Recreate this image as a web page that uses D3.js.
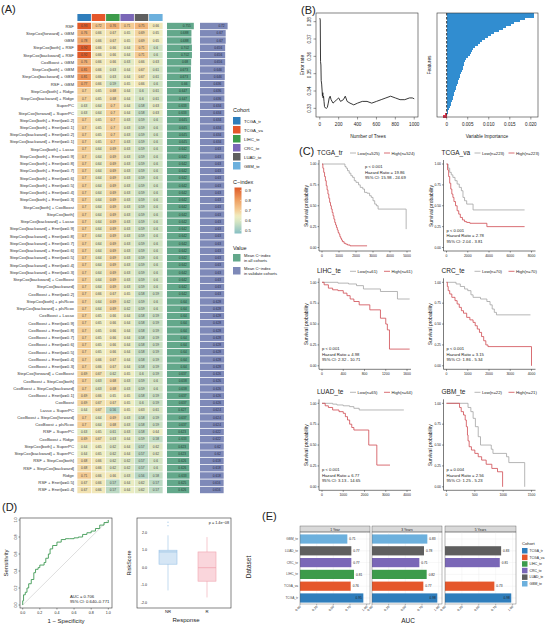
<!DOCTYPE html>
<html>
<head>
<meta charset="utf-8">
<script src="https://cdn.jsdelivr.net/npm/d3@7"></script>
<style>
body { margin: 0; background: #fff; }
svg { display: block; font-family: "Liberation Sans", Arial, Helvetica, sans-serif; }
</style>
</head>
<body>
<svg id="fig" width="546" height="625"></svg>
<script>
'use strict';

// ---------- data: panel A ----------
const cohorts = ["TCGA_tr", "TCGA_va", "LIHC_te", "CRC_te", "LUAD_te", "GBM_te"];
const cohortColors = ["#2f7ebc", "#e5572b", "#3d9b4b", "#7a67b7", "#5f5f5f", "#6cb0dd"];

const models = [
	"RSF", "StepCox[forward] + GBM", "GBM", "StepCox[both] + RSF", "StepCox[backward] + RSF",
	"CoxBoost + GBM", "StepCox[both] + GBM", "StepCox[backward] + GBM", "RSF + GBM",
	"StepCox[both] + Ridge", "StepCox[backward] + Ridge", "SuperPC", "StepCox[forward] + SuperPC",
	"StepCox[both] + Enet[α=0.2]", "StepCox[both] + Enet[α=0.1]", "StepCox[backward] + Enet[α=0.2]",
	"StepCox[backward] + Enet[α=0.1]", "StepCox[both] + Lasso", "StepCox[both] + Enet[α=0.9]",
	"StepCox[both] + Enet[α=0.8]", "StepCox[both] + Enet[α=0.7]", "StepCox[both] + Enet[α=0.6]",
	"StepCox[both] + Enet[α=0.5]", "StepCox[both] + Enet[α=0.4]", "StepCox[both] + Enet[α=0.3]",
	"StepCox[both] + CoxBoost", "StepCox[both]", "StepCox[backward] + Lasso",
	"StepCox[backward] + Enet[α=0.9]", "StepCox[backward] + Enet[α=0.8]", "StepCox[backward] + Enet[α=0.7]",
	"StepCox[backward] + Enet[α=0.6]", "StepCox[backward] + Enet[α=0.5]", "StepCox[backward] + Enet[α=0.4]",
	"StepCox[backward] + Enet[α=0.3]", "StepCox[backward] + CoxBoost", "StepCox[backward]",
	"CoxBoost + Enet[α=0.2]", "StepCox[both] + plsRcox", "StepCox[backward] + plsRcox",
	"CoxBoost + Lasso", "CoxBoost + Enet[α=0.9]", "CoxBoost + Enet[α=0.8]", "CoxBoost + Enet[α=0.7]",
	"CoxBoost + Enet[α=0.6]", "CoxBoost + Enet[α=0.5]", "CoxBoost + Enet[α=0.4]", "CoxBoost + Enet[α=0.3]",
	"StepCox[forward] + CoxBoost", "CoxBoost + StepCox[both]", "CoxBoost + StepCox[backward]",
	"CoxBoost + Enet[α=0.1]", "CoxBoost", "Lasso + SuperPC", "CoxBoost + StepCox[forward]",
	"CoxBoost + plsRcox", "RSF + SuperPC", "CoxBoost + Ridge", "StepCox[both] + SuperPC",
	"StepCox[backward] + SuperPC", "RSF + StepCox[both]", "RSF + StepCox[backward]", "Ridge",
	"RSF + Enet[α=0.5]", "RSF + Enet[α=0.4]"
];

const cindex = [
	[0.93, 0.72, 0.76, 0.71, 0.75, 0.66],
	[0.76, 0.66, 0.67, 0.65, 0.69, 0.65],
	[0.78, 0.66, 0.67, 0.65, 0.69, 0.65],
	[0.92, 0.66, 0.66, 0.64, 0.71, 0.6],
	[0.92, 0.66, 0.66, 0.64, 0.71, 0.6],
	[0.76, 0.66, 0.66, 0.63, 0.66, 0.63],
	[0.81, 0.66, 0.63, 0.64, 0.67, 0.61],
	[0.81, 0.66, 0.63, 0.64, 0.67, 0.61],
	[0.77, 0.66, 0.59, 0.65, 0.66, 0.6],
	[0.7, 0.65, 0.68, 0.64, 0.6, 0.61],
	[0.7, 0.65, 0.68, 0.64, 0.6, 0.61],
	[0.63, 0.64, 0.7, 0.64, 0.58, 0.63],
	[0.63, 0.64, 0.7, 0.64, 0.58, 0.63],
	[0.7, 0.65, 0.7, 0.63, 0.59, 0.6],
	[0.7, 0.65, 0.7, 0.63, 0.59, 0.6],
	[0.7, 0.65, 0.7, 0.63, 0.59, 0.6],
	[0.7, 0.65, 0.7, 0.63, 0.59, 0.6],
	[0.7, 0.64, 0.69, 0.63, 0.59, 0.6],
	[0.7, 0.64, 0.69, 0.63, 0.59, 0.6],
	[0.7, 0.64, 0.69, 0.63, 0.59, 0.6],
	[0.7, 0.64, 0.69, 0.63, 0.59, 0.6],
	[0.7, 0.64, 0.69, 0.63, 0.59, 0.6],
	[0.7, 0.64, 0.69, 0.63, 0.59, 0.6],
	[0.7, 0.64, 0.69, 0.63, 0.59, 0.6],
	[0.7, 0.64, 0.69, 0.63, 0.59, 0.6],
	[0.7, 0.64, 0.69, 0.63, 0.59, 0.6],
	[0.7, 0.64, 0.69, 0.63, 0.59, 0.6],
	[0.7, 0.64, 0.69, 0.63, 0.59, 0.6],
	[0.7, 0.64, 0.69, 0.63, 0.59, 0.6],
	[0.7, 0.64, 0.69, 0.63, 0.59, 0.6],
	[0.7, 0.64, 0.69, 0.63, 0.59, 0.6],
	[0.7, 0.64, 0.69, 0.63, 0.59, 0.6],
	[0.7, 0.64, 0.69, 0.63, 0.59, 0.6],
	[0.7, 0.64, 0.69, 0.63, 0.59, 0.6],
	[0.7, 0.64, 0.69, 0.63, 0.59, 0.6],
	[0.7, 0.64, 0.69, 0.63, 0.59, 0.6],
	[0.7, 0.64, 0.69, 0.63, 0.59, 0.6],
	[0.7, 0.66, 0.67, 0.65, 0.58, 0.59],
	[0.7, 0.64, 0.69, 0.62, 0.59, 0.6],
	[0.7, 0.64, 0.69, 0.62, 0.59, 0.6],
	[0.7, 0.65, 0.66, 0.64, 0.58, 0.59],
	[0.7, 0.65, 0.66, 0.64, 0.58, 0.59],
	[0.7, 0.65, 0.66, 0.64, 0.58, 0.59],
	[0.7, 0.65, 0.66, 0.64, 0.58, 0.59],
	[0.7, 0.65, 0.66, 0.64, 0.58, 0.59],
	[0.7, 0.65, 0.66, 0.64, 0.58, 0.59],
	[0.7, 0.66, 0.67, 0.64, 0.58, 0.59],
	[0.7, 0.66, 0.67, 0.64, 0.58, 0.59],
	[0.69, 0.67, 0.62, 0.65, 0.6, 0.59],
	[0.7, 0.63, 0.68, 0.63, 0.59, 0.6],
	[0.7, 0.63, 0.68, 0.63, 0.59, 0.6],
	[0.69, 0.66, 0.65, 0.65, 0.58, 0.59],
	[0.69, 0.67, 0.67, 0.65, 0.6, 0.59],
	[0.64, 0.67, 0.56, 0.65, 0.63, 0.61],
	[0.7, 0.64, 0.69, 0.63, 0.58, 0.59],
	[0.7, 0.64, 0.68, 0.63, 0.58, 0.59],
	[0.63, 0.65, 0.61, 0.63, 0.58, 0.64],
	[0.69, 0.67, 0.63, 0.64, 0.59, 0.58],
	[0.64, 0.65, 0.62, 0.64, 0.57, 0.62],
	[0.64, 0.65, 0.62, 0.64, 0.57, 0.62],
	[0.68, 0.66, 0.62, 0.62, 0.57, 0.6],
	[0.68, 0.66, 0.62, 0.62, 0.57, 0.6],
	[0.71, 0.66, 0.66, 0.63, 0.56, 0.58],
	[0.67, 0.66, 0.57, 0.64, 0.62, 0.57],
	[0.67, 0.66, 0.57, 0.64, 0.62, 0.57]
];

const meanAll = [0.755, 0.688, 0.688, 0.702, 0.702, 0.68, 0.673, 0.673, 0.66, 0.647, 0.647, 0.633, 0.633,
	0.645, 0.645, 0.645, 0.645, 0.642, 0.642, 0.642, 0.642, 0.642, 0.642, 0.642, 0.642, 0.642, 0.642,
	0.642, 0.642, 0.642, 0.642, 0.642, 0.642, 0.642, 0.642, 0.642, 0.642, 0.642, 0.64, 0.64, 0.64, 0.64,
	0.64, 0.64, 0.64, 0.64, 0.64, 0.64, 0.637, 0.638, 0.638, 0.637, 0.637, 0.627, 0.637, 0.637, 0.623,
	0.633, 0.623, 0.623, 0.626, 0.626, 0.633, 0.625, 0.626];
const meanVal = [0.72, 0.67, 0.67, 0.656, 0.656, 0.656, 0.646, 0.646, 0.636, 0.636, 0.636, 0.634, 0.634,
	0.634, 0.634, 0.634, 0.634, 0.63, 0.63, 0.63, 0.63, 0.63, 0.63, 0.63, 0.63, 0.63, 0.63, 0.63, 0.63,
	0.63, 0.63, 0.63, 0.63, 0.63, 0.63, 0.63, 0.63, 0.63, 0.628, 0.628, 0.628, 0.628, 0.628, 0.628, 0.628,
	0.628, 0.628, 0.628, 0.626, 0.626, 0.626, 0.626, 0.626, 0.624, 0.624, 0.624, 0.622, 0.622, 0.62, 0.62,
	0.618, 0.618, 0.618, 0.616, 0.616];

const legendTicks = [0.9, 0.8, 0.7, 0.6, 0.5];

// ---------- data: panel B ----------
const errorTrees = [1, 5, 8, 12, 15, 20, 25, 28, 32, 35, 40, 45, 50, 60, 70, 80, 90, 100, 110, 120, 140, 160,
	180, 200, 220, 250, 270, 290, 320, 360, 400, 450, 500, 550, 600, 650, 700, 750, 800, 850, 900, 950, 980, 1000];
const errorRate = [0.382, 0.381, 0.357, 0.355, 0.346, 0.344, 0.34, 0.337, 0.339, 0.336, 0.337, 0.334, 0.331,
	0.3302, 0.33, 0.3305, 0.333, 0.336, 0.337, 0.335, 0.333, 0.334, 0.335, 0.336, 0.334, 0.335, 0.337, 0.334,
	0.333, 0.332, 0.333, 0.334, 0.334, 0.333, 0.334, 0.335, 0.336, 0.337, 0.336, 0.335, 0.335, 0.336, 0.336, 0.3355];
const errorTicks = [0.33, 0.34, 0.35, 0.36, 0.37, 0.38];

const importance = [0.0208, 0.0207, 0.0186, 0.0175, 0.016, 0.0152, 0.014, 0.0133, 0.0124, 0.0113, 0.0105,
	0.0098, 0.0092, 0.0085, 0.008, 0.0075, 0.0068, 0.0062, 0.0059, 0.0057, 0.0055, 0.0051, 0.0046, 0.0044,
	0.0042, 0.004, 0.0039, 0.0038, 0.0036, 0.0034, 0.0032, 0.0031, 0.003, 0.0028, 0.0027, 0.0025, 0.0023,
	0.0022, 0.002, 0.0018, 0.0017, 0.0016, 0.0015, 0.0013, 0.0011, 0.001, 0.0008, 0.0006, 0.0004, 0.0002,
	-0.0005, -0.0009];
const importanceTicks = [0, 0.005, 0.010, 0.015, 0.020];

// ---------- data: panel C (Kaplan-Meier steps: [time, survival]) ----------
const kmTcgaTrLow = [[0, 1], [1350, 0.97], [1420, 0.95], [1500, 0.92], [1600, 0.89], [1700, 0.86], [1800, 0.84],
	[1900, 0.8], [2000, 0.78], [2150, 0.75], [2250, 0.72], [2400, 0.7], [2500, 0.66], [2650, 0.65], [2800, 0.62],
	[2900, 0.6], [3000, 0.56], [3100, 0.52], [3200, 0.5], [3300, 0.46], [4950, 0.22]];
const kmTcgaTrHigh = [[0, 1], [50, 0.95], [100, 0.9], [150, 0.85], [200, 0.8], [250, 0.74], [300, 0.69],
	[350, 0.64], [400, 0.59], [450, 0.54], [500, 0.5], [550, 0.46], [600, 0.42], [650, 0.38], [700, 0.34],
	[750, 0.3], [800, 0.27], [850, 0.24], [900, 0.21], [950, 0.18], [1000, 0.16], [1050, 0.13], [1100, 0.11],
	[1150, 0.09], [1200, 0.07], [1300, 0.05], [1400, 0.04], [1500, 0.03], [1650, 0.02], [2650, 0.02]];
const kmTcgaVaLow = [[0, 1], [150, 0.95], [300, 0.9], [450, 0.87], [600, 0.84], [800, 0.8], [1000, 0.76],
	[1200, 0.72], [1400, 0.68], [1550, 0.6], [1700, 0.56], [1900, 0.52], [2500, 0.45], [7350, 0.45]];
const kmTcgaVaHigh = [[0, 1], [100, 0.93], [200, 0.85], [300, 0.77], [400, 0.7], [500, 0.64], [600, 0.6],
	[700, 0.55], [850, 0.5], [1000, 0.44], [1150, 0.4], [1300, 0.36], [1500, 0.33], [1700, 0.31], [1900, 0.3],
	[2200, 0.29], [3800, 0.25], [7350, 0.25]];
const kmLihcLow = [[0, 1], [300, 0.99], [500, 0.98], [650, 0.96], [780, 0.92], [1100, 0.89], [1420, 0.8], [1650, 0.8]];
const kmLihcHigh = [[0, 1], [40, 0.97], [120, 0.93], [200, 0.91], [300, 0.9], [400, 0.87], [470, 0.84], [530, 0.8],
	[600, 0.77], [700, 0.73], [900, 0.67], [1100, 0.57], [1200, 0.5], [1230, 0.43], [1270, 0.2], [1650, 0.2]];
const kmCrcLow = [[0, 1], [450, 0.98], [650, 0.95], [850, 0.92], [1000, 0.9], [1150, 0.85], [1250, 0.82],
	[1600, 0.8], [1900, 0.77], [2050, 0.73], [2150, 0.68], [2250, 0.64], [2350, 0.61], [3950, 0.61]];
const kmCrcHigh = [[0, 1], [40, 0.95], [80, 0.9], [150, 0.86], [250, 0.82], [400, 0.78], [500, 0.74], [600, 0.7],
	[700, 0.66], [800, 0.63], [950, 0.58], [1100, 0.55], [1250, 0.52], [1350, 0.48], [1450, 0.44], [1550, 0.4],
	[1650, 0.35], [1750, 0.3], [1850, 0.25], [1950, 0.23], [4000, 0]];
const kmLuadLow = [[0, 1], [500, 0.99], [700, 0.98], [1000, 0.97], [1300, 0.96], [1500, 0.94], [1750, 0.92], [3850, 0.92]];
const kmLuadHigh = [[0, 1], [150, 0.97], [300, 0.95], [500, 0.92], [800, 0.9], [1000, 0.88], [1100, 0.84],
	[1200, 0.8], [1300, 0.75], [1400, 0.71], [1500, 0.68], [2200, 0.5], [2580, 0.26], [3200, 0.26]];
const kmGbmLow = [[0, 1], [380, 0.95], [430, 0.9], [470, 0.82], [510, 0.72], [560, 0.6], [600, 0.5], [790, 0.45],
	[820, 0.4], [1060, 0.36], [1100, 0.29], [1380, 0]];
const kmGbmHigh = [[0, 1], [230, 0.95], [260, 0.9], [300, 0.86], [330, 0.8], [350, 0.72], [370, 0.62], [380, 0.55],
	[400, 0.48], [440, 0.44], [500, 0.4], [560, 0.36], [620, 0.32], [700, 0.27], [800, 0.22], [900, 0.18], [990, 0]];

const kmTitles = ["TCGA_tr", "TCGA_va", "LIHC_te", "CRC_te", "LUAD_te", "GBM_te"];
const kmLowN = [525, 223, 61, 70, 65, 22];
const kmHighN = [524, 223, 61, 70, 64, 21];
const kmXMax = [5000, 8000, 1600, 4000, 4000, 1500];
const kmXStep = [1000, 2000, 400, 1000, 1000, 500];
const kmP = ["p < 0.001", "p < 0.001", "p < 0.001", "p < 0.001", "p < 0.001", "p = 0.004"];
const kmHR = ["19.86", "2.78", "4.98", "3.15", "6.77", "2.56"];
const kmCI = ["15.98 - 24.69", "2.04 - 3.81", "2.32 - 10.71", "1.86 - 5.34", "3.13 - 14.65", "1.25 - 5.23"];
const kmLow = [kmTcgaTrLow, kmTcgaVaLow, kmLihcLow, kmCrcLow, kmLuadLow, kmGbmLow];
const kmHigh = [kmTcgaTrHigh, kmTcgaVaHigh, kmLihcHigh, kmCrcHigh, kmLuadHigh, kmGbmHigh];

// ---------- data: panel D ----------
const rocFpr = [0, 0, 0.01, 0.03, 0.05, 0.07, 0.1, 0.13, 0.15, 0.18, 0.2, 0.25, 0.27, 0.3, 0.32, 0.35, 0.4, 0.45,
	0.5, 0.55, 0.6, 0.65, 0.7, 0.75, 0.8, 0.85, 0.9, 0.95, 1];
const rocTpr = [0, 0.05, 0.12, 0.15, 0.2, 0.25, 0.3, 0.38, 0.42, 0.44, 0.47, 0.5, 0.55, 0.6, 0.66, 0.7, 0.74, 0.77,
	0.78, 0.78, 0.79, 0.8, 0.83, 0.85, 0.87, 0.9, 0.94, 0.97, 1];
const responseGroups = ["NR", "R"];
const riskStats = [
	{ group: "NR", min: -1.3, q1: 0.2, median: 0.9, q3: 1.0, max: 1.85, outliers: [2.4, 2.6] },
	{ group: "R", min: -1.7, q1: -0.77, median: 0.0, q3: 0.9, max: 1.75, outliers: [] }
];
const riskTicks = [-2, -1, 0, 1, 2];

// ---------- data: panel E ----------
const aucYears = ["1 Year", "3 Years", "5 Years"];
const auc1Year = [0.95, 0.76, 0.81, 0.77, 0.77, 0.71];
const auc3Year = [0.98, 0.77, 0.82, 0.71, 0.78, 0.83];
const auc5Year = [0.98, 0.73, null, 0.81, 0.83, null];
const aucTicks = [0, 0.25, 0.5, 0.75, 1];

// ---------- drawing ----------
const svg = d3.select("#fig");

function label(x, y, t, size, opts) {
	opts = opts || {};
	const el = svg.append("text")
		.attr("x", x).attr("y", y)
		.attr("font-size", size)
		.attr("fill", opts.fill || "#222")
		.attr("text-anchor", opts.anchor || "start")
		.text(t);
	if (opts.rotate) el.attr("transform", `rotate(${opts.rotate},${x},${y})`);
	return el;
}

// panel letters
label(1, 13, "(A)", 11);
label(301, 14, "(B)", 11);
label(299, 155, "(C)", 11);
label(2, 511, "(D)", 11);
label(262, 520, "(E)", 11);

function drawHeatmap() {
	const cColor = d3.scaleLinear()
		.domain([0.5, 0.6, 0.65, 0.7, 0.8, 0.9])
		.range(["#86bfc3", "#d3e4c3", "#f0eec2", "#f4cf98", "#ee9a5c", "#df5a28"])
		.clamp(true);

	const y = d3.scaleBand().domain(d3.range(models.length)).range([22.4, 493.6]);
	const x = d3.scaleBand().domain(cohorts).range([77, 163]);
	const colorOf = d3.scaleOrdinal().domain(cohorts).range(cohortColors);

	const g = svg.append("g");

	// top cohort strip
	g.selectAll("rect.top").data(cohorts).enter().append("rect")
		.attr("x", d => x(d) + 0.4).attr("y", 14)
		.attr("width", x.bandwidth() - 0.8).attr("height", 7)
		.attr("fill", d => colorOf(d));

	const rows = g.selectAll("g.row").data(models).enter().append("g")
		.attr("transform", (d, i) => `translate(0,${y(i)})`);

	rows.append("text")
		.attr("x", 74).attr("y", y.bandwidth() / 2 + 1.5)
		.attr("text-anchor", "end").attr("font-size", 4.3).attr("fill", "#333")
		.text(d => d);

	const cells = rows.selectAll("g.cell")
		.data((d, i) => cindex[i].map((v, j) => ({ v: v, c: cohorts[j] })))
		.enter().append("g");
	cells.append("rect")
		.attr("x", d => x(d.c) + 0.35).attr("y", 0.35)
		.attr("width", x.bandwidth() - 0.7).attr("height", y.bandwidth() - 0.7)
		.attr("fill", d => cColor(d.v));
	cells.append("text")
		.attr("x", d => x(d.c) + x.bandwidth() / 2).attr("y", y.bandwidth() / 2 + 1.2)
		.attr("text-anchor", "middle").attr("font-size", 3.2).attr("fill", "#444")
		.text(d => d.v);

	// mean bars
	const wAll = d3.scaleLinear().domain([0, 0.76]).range([0, 27]);
	const wVal = d3.scaleLinear().domain([0, 0.73]).range([0, 28]);
	rows.append("rect")
		.attr("x", 167).attr("y", 0.4)
		.attr("width", (d, i) => wAll(meanAll[i])).attr("height", y.bandwidth() - 0.8)
		.attr("fill", "#63a88b");
	rows.append("text")
		.attr("x", (d, i) => 167 + wAll(meanAll[i]) - 3).attr("y", y.bandwidth() / 2 + 1.2)
		.attr("text-anchor", "end").attr("font-size", 3.2).attr("fill", "#1f3a30")
		.text((d, i) => meanAll[i]);
	rows.append("rect")
		.attr("x", 200).attr("y", 0.4)
		.attr("width", (d, i) => wVal(meanVal[i])).attr("height", y.bandwidth() - 0.8)
		.attr("fill", "#7e89b8");
	rows.append("text")
		.attr("x", (d, i) => 200 + wVal(meanVal[i]) - 3).attr("y", y.bandwidth() / 2 + 1.2)
		.attr("text-anchor", "end").attr("font-size", 3.2).attr("fill", "#1e2440")
		.text((d, i) => meanVal[i]);

	// legends
	label(233, 112, "Cohort", 5.5);
	cohorts.forEach((c, i) => {
		svg.append("rect").attr("x", 233).attr("y", 117 + i * 9)
			.attr("width", 7.5).attr("height", 7.5).attr("fill", cohortColors[i]);
		label(244, 122.5 + i * 9, c, 4.3);
	});

	label(233, 184, "C−index", 5.5);
	const grad = svg.append("defs").append("linearGradient")
		.attr("id", "cgrad").attr("x1", 0).attr("y1", 1).attr("x2", 0).attr("y2", 0);
	d3.range(0.5, 0.9001, 0.02).forEach(v => {
		grad.append("stop").attr("offset", (v - 0.5) / 0.4).attr("stop-color", cColor(v));
	});
	const lg = d3.scaleLinear().domain([0.5, 0.9]).range([230.5, 190.5]);
	svg.append("rect").attr("x", 234.5).attr("y", 187.5).attr("width", 7).attr("height", 46)
		.attr("fill", "url(#cgrad)");
	legendTicks.forEach(t => {
		svg.append("line").attr("x1", 240).attr("x2", 241.5).attr("y1", lg(t)).attr("y2", lg(t))
			.attr("stroke", "#fff").attr("stroke-width", 0.4);
		label(245, lg(t) + 1.5, t, 4.3);
	});

	label(233, 250, "Value", 5.5);
	svg.append("rect").attr("x", 233).attr("y", 254).attr("width", 7.5).attr("height", 7.5).attr("fill", "#63a88b");
	label(244, 257, "Mean C−index", 4.1);
	label(244, 262, "in all cohorts", 4.1);
	svg.append("rect").attr("x", 233).attr("y", 267).attr("width", 7.5).attr("height", 7.5).attr("fill", "#7e89b8");
	label(244, 270, "Mean C−index", 4.1);
	label(244, 275, "in validate cohorts", 4.1);
}

function drawPanelB() {
	// error rate by trees
	const x = d3.scaleLinear().domain([-40, 1040]).range([316, 418]);
	const y = d3.scaleLinear().domain([0.325, 0.385]).range([117, 13]);
	const g = svg.append("g");
	g.append("rect").attr("x", 316).attr("y", 13).attr("width", 102).attr("height", 104)
		.attr("fill", "none").attr("stroke", "#333").attr("stroke-width", 0.6);
	const line = d3.line().x((d, i) => x(errorTrees[i])).y(d => y(d));
	g.append("path").datum(errorRate).attr("d", line)
		.attr("fill", "none").attr("stroke", "#222").attr("stroke-width", 0.9);
	[0, 200, 400, 600, 800, 1000].forEach(t => {
		g.append("line").attr("x1", x(t)).attr("x2", x(t)).attr("y1", 117).attr("y2", 119.5)
			.attr("stroke", "#333").attr("stroke-width", 0.5);
		label(x(t), 126, t, 4.6, { anchor: "middle" });
	});
	errorTicks.forEach(t => {
		g.append("line").attr("x1", 313.5).attr("x2", 316).attr("y1", y(t)).attr("y2", y(t))
			.attr("stroke", "#333").attr("stroke-width", 0.5);
		label(311, y(t), t.toFixed(2), 4.6, { anchor: "middle", rotate: -90 });
	});
	label(368, 138, "Number of Trees", 4.8, { anchor: "middle" });
	label(304, 65, "Error rate", 4.8, { anchor: "middle", rotate: -90 });

	// variable importance, one 2px row per feature
	const xi = d3.scaleLinear().domain([-0.0023, 0.0217]).range([437, 538]);
	const yi = d3.scaleBand().domain(d3.range(importance.length)).range([13, 117]);
	g.append("g").attr("shape-rendering", "crispEdges")
		.selectAll("rect").data(importance).enter().append("rect")
		.attr("x", d => xi(Math.min(0, d)))
		.attr("y", (d, i) => yi(i))
		.attr("width", d => Math.abs(xi(d) - xi(0)))
		.attr("height", yi.bandwidth() + 0.5)
		.attr("fill", d => d < 0 ? "#e0334d" : "#318dd0");
	g.append("rect").attr("x", 437).attr("y", 13).attr("width", 101).attr("height", 104)
		.attr("fill", "none").attr("stroke", "#333").attr("stroke-width", 0.6);
	g.append("line").attr("x1", xi(0)).attr("x2", xi(0)).attr("y1", 13).attr("y2", 117)
		.attr("stroke", "#333").attr("stroke-width", 1).attr("stroke-dasharray", "2.5,1.5");
	importanceTicks.forEach(t => {
		g.append("line").attr("x1", xi(t)).attr("x2", xi(t)).attr("y1", 117).attr("y2", 119.5)
			.attr("stroke", "#333").attr("stroke-width", 0.5);
		label(xi(t), 126, t === 0 ? "0" : t.toFixed(3), 4.6, { anchor: "middle" });
	});
	label(487, 138, "Variable Importance", 4.8, { anchor: "middle" });
	label(431, 65, "Features", 4.8, { anchor: "middle", rotate: -90 });
}

function drawKM(k, axisX, top) {
	const zeroY = top + 83.5;
	const x = d3.scaleLinear().domain([0, kmXMax[k]]).range([axisX + 3, axisX + 88]);
	const y = d3.scaleLinear().domain([0, 1]).range([zeroY, top]);
	const g = svg.append("g");

	// axes
	g.append("line").attr("x1", axisX).attr("x2", axisX).attr("y1", top - 4).attr("y2", zeroY + 3.5)
		.attr("stroke", "#222").attr("stroke-width", 0.6);
	g.append("line").attr("x1", axisX).attr("x2", axisX + 92).attr("y1", zeroY + 3.5).attr("y2", zeroY + 3.5)
		.attr("stroke", "#222").attr("stroke-width", 0.6);
	[0, 0.25, 0.5, 0.75, 1].forEach(t => {
		g.append("line").attr("x1", axisX - 1.5).attr("x2", axisX).attr("y1", y(t)).attr("y2", y(t))
			.attr("stroke", "#222").attr("stroke-width", 0.5);
		label(axisX - 2.5, y(t) + 1.2, t.toFixed(2), 3.4, { anchor: "end" });
	});
	d3.range(0, kmXMax[k] + 1, kmXStep[k]).forEach(t => {
		g.append("line").attr("x1", x(t)).attr("x2", x(t)).attr("y1", zeroY + 3.5).attr("y2", zeroY + 5)
			.attr("stroke", "#222").attr("stroke-width", 0.5);
		label(x(t), zeroY + 9, t, 3.4, { anchor: "middle" });
	});
	label(axisX - 11, top + 42, "Survival probability", 5, { anchor: "middle", rotate: -90 });

	const line = d3.line().curve(d3.curveStepAfter).x(d => x(d[0])).y(d => y(d[1]));
	g.append("path").datum(kmLow[k]).attr("d", line)
		.attr("fill", "none").attr("stroke", "#a3a3a3").attr("stroke-width", 0.8);
	g.append("path").datum(kmHigh[k]).attr("d", line)
		.attr("fill", "none").attr("stroke", "#cf4a50").attr("stroke-width", 0.8);

	// title + legend
	const ty = top - 11;
	label(axisX - 2, ty + 2, kmTitles[k], 6.5);
	const lx = axisX + 31;
	g.append("line").attr("x1", lx).attr("x2", lx + 6).attr("y1", ty).attr("y2", ty)
		.attr("stroke", "#a3a3a3").attr("stroke-width", 0.8);
	label(lx + 7.5, ty + 1.5, `Low(n=${kmLowN[k]})`, 4.2);
	const hx = lx + 34;
	g.append("line").attr("x1", hx).attr("x2", hx + 6).attr("y1", ty).attr("y2", ty)
		.attr("stroke", "#cf4a50").attr("stroke-width", 0.8);
	label(hx + 7.5, ty + 1.5, `High(n=${kmHighN[k]})`, 4.2);

	// stats text
	const sx = k === 0 ? axisX + 46 : axisX + 3;
	const sy = k === 0 ? top + 4 : zeroY - 16;
	label(sx, sy, kmP[k], 4.2);
	label(sx, sy + 5.7, `Hazard Ratio = ${kmHR[k]}`, 4.2);
	label(sx, sy + 11.4, `95% CI: ${kmCI[k]}`, 4.2);
}

function drawPanelD() {
	// ROC
	const x = d3.scaleLinear().domain([0, 1]).range([22.7, 108.3]);
	const y = d3.scaleLinear().domain([0, 1]).range([605, 520]);
	const g = svg.append("g");
	g.append("rect").attr("x", 20).attr("y", 518).attr("width", 92).attr("height", 90)
		.attr("fill", "none").attr("stroke", "#333").attr("stroke-width", 0.6);
	g.append("line").attr("x1", x(0)).attr("y1", y(0)).attr("x2", x(1)).attr("y2", y(1))
		.attr("stroke", "#c8c8c8").attr("stroke-width", 0.6);
	const roc = d3.line().curve(d3.curveStepAfter).x(d => x(d[0])).y(d => y(d[1]));
	g.append("path").datum(rocFpr.map((f, i) => [f, rocTpr[i]])).attr("d", roc)
		.attr("fill", "none").attr("stroke", "#3f9a55").attr("stroke-width", 0.9);
	[0, 0.2, 0.4, 0.6, 0.8, 1].forEach(t => {
		g.append("line").attr("x1", x(t)).attr("x2", x(t)).attr("y1", 608).attr("y2", 609.5)
			.attr("stroke", "#333").attr("stroke-width", 0.5);
		label(x(t), 614, t.toFixed(1), 3.6, { anchor: "middle" });
		g.append("line").attr("x1", 18.5).attr("x2", 20).attr("y1", y(t)).attr("y2", y(t))
			.attr("stroke", "#333").attr("stroke-width", 0.5);
		label(16.5, y(t), t.toFixed(1), 3.6, { anchor: "middle", rotate: -90 });
	});
	label(70, 597.5, "AUC = 0.706", 4.2);
	label(70, 603, "95% CI: 0.640–0.771", 4.2);
	label(8, 563, "Sensitivity", 6, { anchor: "middle", rotate: -90 });
	label(66, 623, "1 − Specificity", 6, { anchor: "middle" });

	// risk score box plot
	const xb = d3.scaleBand().domain(responseGroups).range([148.5, 226.5]);
	const yb = d3.scaleLinear().domain([-2, 2]).range([602.7, 532.7]);
	const boxFill = { NR: "#d5e6f5", R: "#fad6dc" };
	const boxStroke = { NR: "#9cc4e6", R: "#f0a5b0" };
	g.append("rect").attr("x", 137).attr("y", 518).attr("width", 94).attr("height", 90)
		.attr("fill", "none").attr("stroke", "#333").attr("stroke-width", 0.6);
	riskTicks.forEach(t => {
		label(147, yb(t) + 1.2, t.toFixed(1), 3.6, { anchor: "end" });
	});
	riskStats.forEach(s => {
		const cx = xb(s.group) + xb.bandwidth() / 2;
		const hw = 9;
		g.append("line").attr("x1", cx).attr("x2", cx).attr("y1", yb(s.max)).attr("y2", yb(s.min))
			.attr("stroke", boxStroke[s.group]).attr("stroke-width", 0.6);
		g.append("rect").attr("x", cx - hw).attr("width", hw * 2)
			.attr("y", yb(s.q3)).attr("height", yb(s.q1) - yb(s.q3))
			.attr("fill", boxFill[s.group]).attr("stroke", boxStroke[s.group]).attr("stroke-width", 0.6);
		g.append("line").attr("x1", cx - hw).attr("x2", cx + hw).attr("y1", yb(s.median)).attr("y2", yb(s.median))
			.attr("stroke", boxStroke[s.group]).attr("stroke-width", 0.8);
		s.outliers.forEach(o => {
			g.append("circle").attr("cx", cx).attr("cy", yb(o)).attr("r", 0.6).attr("fill", boxStroke[s.group]);
		});
		label(cx, 613, s.group, 4.2, { anchor: "middle" });
	});
	label(229, 523.5, "p = 1.4e−08", 3.8, { anchor: "end" });
	label(131, 563, "RiskScore", 5.5, { anchor: "middle", rotate: -90 });
	label(186, 622, "Response", 6, { anchor: "middle" });
}

function drawPanelE() {
	const facets = [[300, 370], [372, 442], [445, 516]];
	const aucByYear = [auc1Year, auc3Year, auc5Year];
	const order = cohorts.slice().reverse();
	const y = d3.scaleBand().domain(order).range([533, 604]).paddingInner(0.22).paddingOuter(0.12);
	const colorOf = d3.scaleOrdinal().domain(cohorts).range(cohortColors);
	const g = svg.append("g");

	aucYears.forEach((yr, f) => {
		const x = d3.scaleLinear().domain([0, 1.05]).range(facets[f]);
		const w = facets[f][1] - facets[f][0];
		// strip
		g.append("rect").attr("x", facets[f][0]).attr("y", 526).attr("width", w).attr("height", 6)
			.attr("fill", "#d9d9d9").attr("stroke", "#555").attr("stroke-width", 0.4);
		label(facets[f][0] + w / 2, 530.5, yr, 3.4, { anchor: "middle" });
		// panel grid
		aucTicks.forEach(t => {
			g.append("line").attr("x1", x(t)).attr("x2", x(t)).attr("y1", 532).attr("y2", 604)
				.attr("stroke", "#ebebeb").attr("stroke-width", 0.4);
		});
		order.forEach(c => {
			g.append("line").attr("x1", facets[f][0]).attr("x2", facets[f][1])
				.attr("y1", y(c) + y.bandwidth() / 2).attr("y2", y(c) + y.bandwidth() / 2)
				.attr("stroke", "#ebebeb").attr("stroke-width", 0.4);
		});
		const vals = aucByYear[f];
		cohorts.forEach((c, i) => {
			const v = vals[i];
			if (v === null) return;
			g.append("rect").attr("x", x(0)).attr("y", y(c))
				.attr("width", x(v) - x(0)).attr("height", y.bandwidth())
				.attr("fill", colorOf(c));
			const inside = v > 0.9;
			label(inside ? x(v) - 1.5 : x(v) + 2, y(c) + y.bandwidth() / 2 + 1.2, v.toFixed(2), 3.2,
				{ anchor: inside ? "end" : "start", fill: "#222" });
		});
		g.append("rect").attr("x", facets[f][0]).attr("y", 532).attr("width", w).attr("height", 72)
			.attr("fill", "none").attr("stroke", "#555").attr("stroke-width", 0.4);
		aucTicks.forEach(t => {
			g.append("line").attr("x1", x(t)).attr("x2", x(t)).attr("y1", 604).attr("y2", 605.5)
				.attr("stroke", "#555").attr("stroke-width", 0.4);
			label(x(t) + 1, 607, t.toFixed(2), 3.2, { anchor: "end", rotate: -45 });
		});
	});
	order.forEach(c => {
		label(298, y(c) + y.bandwidth() / 2 + 1, c, 3.2, { anchor: "end", fill: "#444" });
	});
	label(251, 567, "Dataset", 6.5, { anchor: "middle", rotate: -90 });
	label(408, 623, "AUC", 6.5, { anchor: "middle" });

	label(522, 545, "Cohort", 4.2);
	cohorts.forEach((c, i) => {
		svg.append("rect").attr("x", 522).attr("y", 548 + i * 6.6).attr("width", 5.5).attr("height", 5.5)
			.attr("fill", cohortColors[i]);
		label(529.5, 552 + i * 6.6, c, 3.4);
	});
}

drawHeatmap();
drawPanelB();
drawKM(0, 319, 164);
drawKM(1, 443.5, 164);
drawKM(2, 319, 282.3);
drawKM(3, 443.5, 282.3);
drawKM(4, 319, 403.3);
drawKM(5, 443.5, 403.3);
drawPanelD();
drawPanelE();
</script>
</body>
</html>
